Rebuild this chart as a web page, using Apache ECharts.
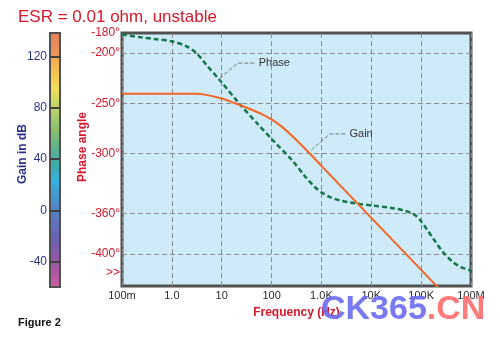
<!DOCTYPE html>
<html>
<head>
<meta charset="utf-8">
<script src="https://cdn.jsdelivr.net/npm/echarts@6/dist/echarts.min.js"></script>
<style>
  html, body { margin: 0; padding: 0; background: #ffffff; }
  #chart { width: 500px; height: 343px; }
</style>
</head>
<body>
<div id="chart"></div>
<script>
// Frequency axis tick labels, one per decade (0.1 Hz ... 1 MHz)
const freqTickLabels = ['100m', '1.0', '10', '100', '1.0K', '10K', '100K', '100M'];

// Gain axis ticks (dB) and phase axis ticks (degrees)
const gainTicks = [-40, 0, 40, 80, 120];
const phaseTicks = [-200, -250, -300, -360, -400];
const phaseLabelTicks = [-180, -200, -250, -300, -360, -400, -419];

// Open-loop gain (dB) vs frequency (Hz)
const gainFreq = [0.1, 1, 2.86, 4.54, 10, 22.9, 57.7, 100, 160, 266, 462, 1000, 10000, 100000, 250000];
const gainDb   = [91.1, 91.1, 91.0, 90.4, 87.4, 82.3, 76.0, 71.0, 65.4, 57.7, 48.5, 34.8, -5.8, -46.4, -62.6];

// Phase (degrees) vs frequency (Hz)
const phaseFreq = [0.1, 0.22, 0.45, 1, 1.95, 3.1, 4.9, 9.08, 22.9, 52.6, 110, 266, 462, 735, 1016,
                   1470, 2335, 3707, 5886, 10900, 23600, 47000, 75000, 102000, 137000, 189000,
                   273000, 434000, 658000, 1000000];
const phaseDeg  = [-181.5, -184, -186, -188.3, -193.2, -199.9, -211.6, -226.8, -250.7, -270.6, -287.6,
                   -307.5, -322.4, -333.4, -338.9, -343.3, -346.8, -348.8, -350.3, -352, -354, -357,
                   -361.3, -368.2, -377.2, -387.2, -398.1, -408.1, -413.6, -416.6];

// Callout leaders: [frequency, value] points
const phaseLeader = [[9.1, -225], [21.1, -210], [48, -210]];
const gainLeader  = [[628, 47.2], [1470, 59.7], [3180, 59.7]];

const pairs = (xs, ys) => xs.map((x, i) => [x, ys[i]]);

const FONT = '"Liberation Sans", Arial, sans-serif';
const RED = '#d8172b';
const NAVY = '#2b3288';
const GRID_LINE = { show: true, lineStyle: { color: '#8a8a8a', type: [5, 3], width: 1 } };

const chart = echarts.init(document.getElementById('chart'), null, { renderer: 'canvas' });

chart.setOption({
  animation: false,
  backgroundColor: '#ffffff',
  grid: {
    left: 122, right: 29, top: 33, bottom: 57,
    show: true,
    backgroundColor: '#cfeaf8',
    borderColor: '#505050',
    borderWidth: 3
  },
  xAxis: {
    type: 'log',
    logBase: 10,
    min: 0.1,
    max: 1000000,
    splitNumber: 7,
    axisLine: { show: false },
    axisTick: { show: false },
    axisLabel: {
      margin: 4,
      color: '#2a2a2a',
      fontSize: 11,
      fontFamily: FONT,
      formatter: v => freqTickLabels[Math.round(Math.log10(v)) + 1]
    },
    splitLine: GRID_LINE,
    name: 'Frequency (Hz)',
    nameLocation: 'middle',
    nameGap: 21,
    nameTextStyle: { color: RED, fontWeight: 'bold', fontSize: 12, fontFamily: FONT }
  },
  yAxis: [
    {
      // phase angle
      type: 'value',
      position: 'left',
      min: -432,
      max: -180,
      axisLine: { show: false },
      axisTick: { show: false, customValues: phaseTicks },
      axisLabel: {
        customValues: phaseLabelTicks,
        margin: 2,
        color: RED,
        fontSize: 12,
        fontFamily: FONT,
        formatter: v => v === -419 ? '>>' : v + '°'
      },
      splitLine: GRID_LINE
    },
    {
      // gain in dB, drawn beside the colour scale
      type: 'value',
      position: 'left',
      offset: 72,
      min: -59,
      max: 138.5,
      z: 10,
      axisLine: { show: false },
      axisTick: {
        show: true, inside: true, length: 10,
        customValues: gainTicks,
        lineStyle: { color: '#404040', width: 2 }
      },
      axisLabel: {
        customValues: gainTicks,
        margin: 3,
        color: NAVY,
        fontSize: 12,
        fontFamily: FONT
      },
      splitLine: { show: false }
    }
  ],
  series: [
    {
      name: 'Gain',
      type: 'line',
      yAxisIndex: 1,
      data: pairs(gainFreq, gainDb),
      smooth: 0.3,
      showSymbol: false,
      symbol: 'none',
      lineStyle: { color: '#f26522', width: 2 },
      z: 5
    },
    {
      name: 'Phase',
      type: 'line',
      yAxisIndex: 0,
      data: pairs(phaseFreq, phaseDeg),
      smooth: 0.3,
      showSymbol: false,
      symbol: 'none',
      lineStyle: { color: '#16774a', width: 2.5, type: [5, 3] },
      z: 4
    },
    {
      name: 'Phase callout',
      type: 'line',
      yAxisIndex: 0,
      data: phaseLeader,
      symbol: 'none',
      lineStyle: { color: '#7a7a7a', width: 1, type: [4, 2] },
      endLabel: { show: true, formatter: 'Phase', color: '#333333', fontSize: 11, fontFamily: FONT, distance: 3 },
      z: 3
    },
    {
      name: 'Gain callout',
      type: 'line',
      yAxisIndex: 1,
      data: gainLeader,
      symbol: 'none',
      lineStyle: { color: '#7a7a7a', width: 1, type: [4, 2] },
      endLabel: { show: true, formatter: 'Gain', color: '#333333', fontSize: 11, fontFamily: FONT, distance: 3 },
      z: 3
    }
  ],
  graphic: [
    {
      // colour scale bar for the gain axis
      type: 'rect',
      z: 2,
      shape: { x: 50, y: 33, width: 10, height: 254 },
      style: {
        fill: new echarts.graphic.LinearGradient(0, 0, 0, 1, [
          { offset: 0.00, color: '#e3825f' },
          { offset: 0.09, color: '#ec9757' },
          { offset: 0.11, color: '#f5ad4d' },
          { offset: 0.22, color: '#f1df5c' },
          { offset: 0.30, color: '#bcd36a' },
          { offset: 0.38, color: '#8cc070' },
          { offset: 0.46, color: '#5cb08c' },
          { offset: 0.52, color: '#3eacac' },
          { offset: 0.58, color: '#36b2de' },
          { offset: 0.66, color: '#4a90cc' },
          { offset: 0.72, color: '#5a78c0' },
          { offset: 0.81, color: '#6c62b0' },
          { offset: 0.88, color: '#8c58a8' },
          { offset: 0.95, color: '#b458a4' },
          { offset: 1.00, color: '#d063a0' }
        ]),
        stroke: '#505050',
        lineWidth: 2
      }
    },
    {
      type: 'text',
      x: 18, y: 17,
      style: {
        text: 'ESR = 0.01 ohm, unstable',
        fill: RED,
        font: '17px ' + FONT,
        verticalAlign: 'middle'
      }
    },
    {
      type: 'text',
      x: 22.5, y: 154,
      rotation: Math.PI / 2,
      style: {
        text: 'Gain in dB',
        fill: NAVY,
        font: 'bold 12px ' + FONT,
        align: 'center',
        verticalAlign: 'middle'
      }
    },
    {
      type: 'text',
      x: 82.5, y: 147,
      rotation: Math.PI / 2,
      style: {
        text: 'Phase angle',
        fill: RED,
        font: 'bold 12px ' + FONT,
        align: 'center',
        verticalAlign: 'middle'
      }
    },
    {
      type: 'text',
      x: 18, y: 323,
      style: {
        text: 'Figure 2',
        fill: '#111111',
        font: 'bold 11px ' + FONT,
        verticalAlign: 'middle'
      }
    },
    {
      type: 'text',
      x: 321, y: 309.5,
      z: 20,
      style: {
        text: '{a|CK365}{b|.CN}',
        verticalAlign: 'middle',
        opacity: 0.9,
        rich: {
          a: { fill: '#6a6af0', font: 'bold 34px ' + FONT },
          b: { fill: '#ff6d6d', font: 'bold 34px ' + FONT }
        }
      }
    }
  ]
});
</script>
</body>
</html>
